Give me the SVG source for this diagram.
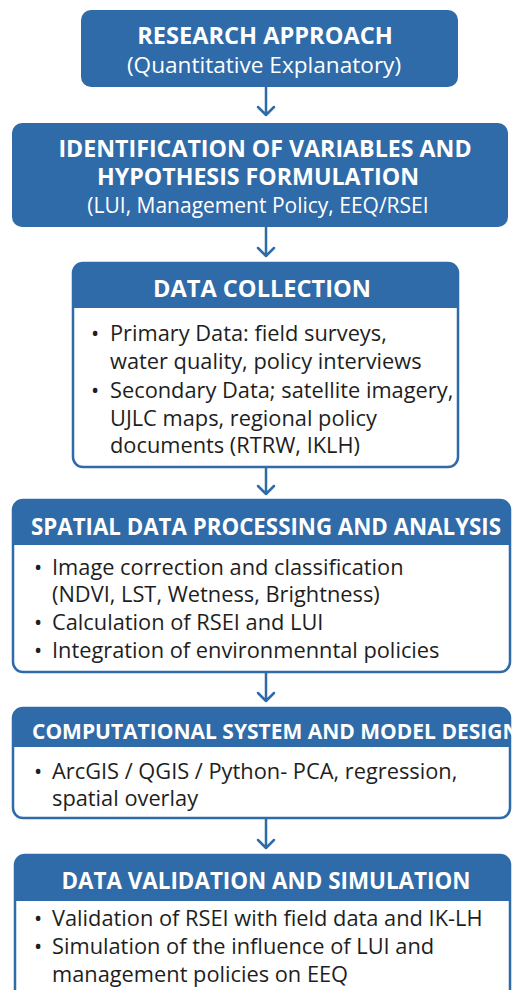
<svg xmlns="http://www.w3.org/2000/svg" width="512" height="990" viewBox="0 0 512 990">
  <defs>
    <style>
      .head { font-family: "Open Sans", "Noto Sans", "Liberation Sans", sans-serif; font-weight: 700; font-size: 22px; fill: #ffffff; }
      .sub { font-family: "Open Sans", "Noto Sans", "Liberation Sans", sans-serif; font-weight: 400; font-size: 21px; fill: #ffffff; }
      .body { font-family: "Open Sans", "Noto Sans", "Liberation Sans", sans-serif; font-weight: 400; font-size: 21.8px; fill: #1e1e1e; }
      .band { fill: #2f6ba8; }
      .frame { fill: none; stroke: #2f6ba8; stroke-width: 2.5; }
      .panel { fill: #ffffff; }
      .link { fill: none; stroke: #2f6ba8; stroke-width: 2.5; stroke-linecap: round; stroke-linejoin: round; }
    </style>
  </defs>

  <rect x="0" y="0" width="512" height="990" fill="#ffffff"/>

  <!-- connectors: shaft plus open chevron head -->
  <g id="connectors">
    <path class="link" d="M266,87 V115 M258,107 L266,115 L274,107"/>
    <path class="link" d="M266,227 V256 M258,248 L266,256 L274,248"/>
    <path class="link" d="M266,467 V494 M258,486 L266,494 L274,486"/>
    <path class="link" d="M266,672 V701 M258,693 L266,701 L274,693"/>
    <path class="link" d="M266,818 V848 M258,840 L266,848 L274,840"/>
  </g>

  <!-- research approach -->
  <g id="research-approach">
    <rect class="band" x="81" y="10" width="377" height="77" rx="10"/>
    <text class="head" x="265" y="44" text-anchor="middle" style="font-size:23.6px">RESEARCH APPROACH</text>
    <text class="sub" x="264" y="73" text-anchor="middle" style="font-size:22.6px">(Quantitative Explanatory)</text>
  </g>

  <!-- variables and hypotheses -->
  <g id="variables-hypothesis">
    <rect class="band" x="12" y="123" width="496" height="104" rx="10"/>
    <text class="head" x="265" y="157" text-anchor="middle" style="font-size:23.2px">IDENTIFICATION OF VARIABLES AND</text>
    <text class="head" x="258" y="185" text-anchor="middle" style="font-size:23.2px">HYPOTHESIS FORMULATION</text>
    <text class="sub" x="258" y="213" text-anchor="middle">(LUI, Management Policy, EEQ/RSEI</text>
  </g>

  <!-- data collection -->
  <g id="data-collection">
    <rect class="panel" x="73" y="263" width="385" height="204" rx="10"/>
    <path class="band" d="M73,308 V273 A10,10 0 0 1 83,263 H448 A10,10 0 0 1 458,273 V308 Z"/>
    <rect class="frame" x="73" y="263" width="385" height="204" rx="10"/>
    <text class="head" x="262" y="297" text-anchor="middle" style="font-size:23.6px">DATA COLLECTION</text>
    <text class="body" x="91" y="341">•</text>
    <text class="body" x="110" y="341">Primary Data: field surveys,</text>
    <text class="body" x="110" y="369">water quality, policy interviews</text>
    <text class="body" x="91" y="398">•</text>
    <text class="body" x="110" y="398">Secondary Data; satellite imagery,</text>
    <text class="body" x="110" y="426">UJLC maps, regional policy</text>
    <text class="body" x="110" y="453">documents (RTRW, IKLH)</text>
  </g>

  <!-- spatial processing -->
  <g id="spatial-processing">
    <rect class="panel" x="13" y="500" width="497" height="172" rx="10"/>
    <path class="band" d="M13,545 V510 A10,10 0 0 1 23,500 H500 A10,10 0 0 1 510,510 V545 Z"/>
    <rect class="frame" x="13" y="500" width="497" height="172" rx="10"/>
    <text class="head" x="266" y="535" text-anchor="middle" style="font-size:22.3px">SPATIAL DATA PROCESSING AND ANALYSIS</text>
    <text class="body" x="34" y="575">•</text>
    <text class="body" x="52" y="575">Image correction and classification</text>
    <text class="body" x="52" y="602">(NDVI, LST, Wetness, Brightness)</text>
    <text class="body" x="34" y="630">•</text>
    <text class="body" x="52" y="630">Calculation of RSEI and LUI</text>
    <text class="body" x="34" y="658">•</text>
    <text class="body" x="52" y="658">Integration of environmenntal policies</text>
  </g>

  <!-- model design -->
  <g id="model-design">
    <rect class="panel" x="13" y="708" width="497" height="110" rx="10"/>
    <path class="band" d="M13,747 V718 A10,10 0 0 1 23,708 H500 A10,10 0 0 1 510,718 V747 Z"/>
    <rect class="frame" x="13" y="708" width="497" height="110" rx="10"/>
    <text class="head" x="32" y="739" style="font-size:21px">COMPUTATIONAL SYSTEM AND MODEL DESIGN</text>
    <text class="body" x="34" y="779">•</text>
    <text class="body" x="52" y="779">ArcGIS / QGIS / Python- PCA, regression,</text>
    <text class="body" x="52" y="806">spatial overlay</text>
  </g>

  <!-- validation -->
  <g id="validation-simulation">
    <rect class="panel" x="15" y="855" width="495" height="150" rx="10"/>
    <path class="band" d="M15,901 V865 A10,10 0 0 1 25,855 H500 A10,10 0 0 1 510,865 V901 Z"/>
    <rect class="frame" x="15" y="855" width="495" height="150" rx="10"/>
    <text class="head" x="266" y="889" text-anchor="middle" style="font-size:22.4px">DATA VALIDATION AND SIMULATION</text>
    <text class="body" x="34" y="926">•</text>
    <text class="body" x="52" y="926">Validation of RSEI with field data and IK-LH</text>
    <text class="body" x="34" y="954">•</text>
    <text class="body" x="52" y="954">Simulation of the influence of LUI and</text>
    <text class="body" x="52" y="982">management policies on EEQ</text>
  </g>
</svg>
